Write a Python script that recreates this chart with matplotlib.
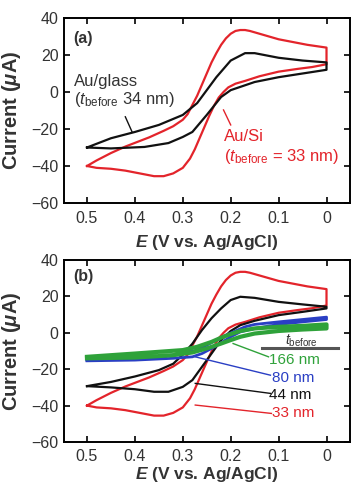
import matplotlib
matplotlib.use("Agg")
import matplotlib.pyplot as plt

plt.rcParams['font.family'] = ['Liberation Sans', 'DejaVu Sans']
plt.rcParams['mathtext.fontset'] = 'custom'
plt.rcParams['mathtext.rm'] = 'Liberation Sans'
plt.rcParams['mathtext.it'] = 'Liberation Sans:italic'
plt.rcParams['mathtext.bf'] = 'Liberation Sans:bold'
plt.rcParams['mathtext.bfit'] = 'Liberation Sans:italic:bold'

# ---------------- data (E in V vs Ag/AgCl, I in uA) ----------------
# 33 nm Au/Si (red) : upper branch 0.5 -> 0, lower branch 0 -> 0.5
red_up_E = [0.50, 0.48, 0.45, 0.42, 0.40, 0.37, 0.34, 0.32, 0.30, 0.29, 0.28, 0.27, 0.26, 0.25,
            0.24, 0.23, 0.22, 0.21, 0.20, 0.19, 0.18, 0.17, 0.16, 0.14, 0.12, 0.10, 0.07, 0.04, 0.00]
red_up_I = [-40, -37, -33, -29.5, -27.5, -24.5, -21, -18.5, -15, -12, -7, -2, 4, 10,
            16, 21, 25.5, 29, 31.5, 33, 33.5, 33.5, 33, 31.5, 30, 28.5, 27, 25.5, 24]
red_dn_E = [0.00, 0.03, 0.06, 0.10, 0.14, 0.17, 0.19, 0.205, 0.215, 0.225, 0.235, 0.245, 0.255,
            0.265, 0.275, 0.285, 0.30, 0.32, 0.34, 0.36, 0.39, 0.42, 0.45, 0.48, 0.50]
red_dn_I = [15, 13.5, 12.5, 11, 8.5, 6, 4.5, 2.5, 0, -3, -7.5, -13, -19,
            -25, -31, -36, -41, -44, -45.5, -45.5, -44, -42.5, -41.5, -41, -40]

# 34 nm Au/glass (black, panel a)
glass_up_E = [0.50, 0.45, 0.40, 0.35, 0.30, 0.27, 0.25, 0.23, 0.20, 0.17, 0.15, 0.10, 0.05, 0.00]
glass_up_I = [-30, -25, -21.6, -17.8, -12.4, -6, 1, 8, 17, 21, 21, 18.5, 17, 16]
glass_dn_E = [0.00, 0.05, 0.10, 0.15, 0.20, 0.22, 0.25, 0.28, 0.30, 0.33, 0.38, 0.45, 0.50]
glass_dn_I = [12, 10, 8, 5.4, 1, -2.7, -12.4, -21.6, -24.3, -27.6, -29.7, -30.5, -30]

# 44 nm (black, panel b)
b44_up_E = [0.50, 0.45, 0.40, 0.35, 0.32, 0.30, 0.28, 0.26, 0.24, 0.22, 0.20, 0.18, 0.15, 0.10, 0.05, 0.00]
b44_up_I = [-29.3, -27, -24, -20.5, -17, -12, -6, 1.5, 8, 13.4, 18, 19.8, 19.2, 17, 15.6, 14.3]
b44_dn_E = [0.00, 0.05, 0.10, 0.15, 0.18, 0.20, 0.22, 0.24, 0.26, 0.28, 0.30, 0.33, 0.36, 0.40, 0.45, 0.50]
b44_dn_I = [13.4, 11.5, 9.7, 6.6, 4.2, 1, -4, -11.4, -18.7, -26, -29.7, -32.4, -32.4, -31, -30, -29.3]

# 80 nm (blue)
b80_up_E = [0.50, 0.40, 0.35, 0.30, 0.27, 0.25, 0.23, 0.21, 0.19, 0.17, 0.15, 0.10, 0.05, 0.00]
b80_up_I = [-15, -14, -13.2, -11.4, -9.5, -6.8, -4, -1.3, 1, 3.3, 4.6, 6, 7.3, 8.6]
b80_dn_E = [0.00, 0.05, 0.10, 0.15, 0.18, 0.20, 0.22, 0.24, 0.26, 0.28, 0.32, 0.40, 0.50]
b80_dn_I = [7.3, 6, 4.6, 2.4, 0.5, -2.2, -5.5, -8.6, -11.4, -13.2, -14, -15, -15.4]

# 166 nm (green)
b166_up_E = [0.50, 0.40, 0.30, 0.27, 0.24, 0.22, 0.20, 0.18, 0.15, 0.10, 0.05, 0.00]
b166_up_I = [-13.2, -11.4, -9.5, -7.7, -5, -2.7, -0.7, 1, 2.4, 3.3, 3.8, 4.6]
b166_dn_E = [0.00, 0.05, 0.10, 0.15, 0.18, 0.20, 0.22, 0.25, 0.28, 0.32, 0.40, 0.50]
b166_dn_I = [2.4, 1.8, 1, -0.4, -2.2, -4, -5.9, -8.6, -10.8, -12.3, -13.6, -14]

x_ticks = [0.5, 0.4, 0.3, 0.2, 0.1, 0.0]
x_tick_labels = ['0.5', '0.4', '0.3', '0.2', '0.1', '0']
y_ticks = [40, 20, 0, -20, -40, -60]

thick_labels = ['166 nm', '80 nm', '44 nm', '33 nm']

RED = '#e3242b'
BLUE = '#2a3fc4'
GREEN = '#2fa23a'
BLACK = '#111111'
TXT = '#333333'

fig = plt.figure(figsize=(3.51, 4.84), dpi=100)
ax_a = fig.add_axes([64/351, 1-203/484, (349.5-64)/351, (203-18)/484])
ax_b = fig.add_axes([64/351, 1-442/484, (349.5-64)/351, (442-260)/484])


def style(ax, xpad, tpad):
    ax.set_xlim(0.548, -0.048)
    ax.set_ylim(-60, 40)
    ax.set_xticks(x_ticks)
    ax.set_xticklabels(x_tick_labels)
    ax.set_yticks(y_ticks)
    ax.tick_params(direction='in', top=True, right=True, length=4, width=1.2,
                   labelsize=11.5, labelcolor=TXT)
    ax.tick_params(axis='x', pad=tpad)
    ax.tick_params(axis='y', pad=4)
    for s in ax.spines.values():
        s.set_linewidth(1.4)
    ax.set_xlabel(r'$\mathbfit{E}$ (V vs. Ag/AgCl)', fontsize=12.5, fontweight='bold',
                  color=TXT, labelpad=xpad)
    ax.set_ylabel(r'Current ($\mathbfit{\mu}$A)', fontsize=14.5, fontweight='bold',
                  color=TXT)
    ax.yaxis.set_label_coords(-0.145, 0.5)


def loop(ax, e1, i1, e2, i2, color, lw=1.6, z=2):
    ax.plot(e1 + e2, i1 + i2, color=color, lw=lw, zorder=z, solid_joinstyle='round')


# ---------- panel (a) ----------
style(ax_a, 5, 6)
loop(ax_a, red_up_E, red_up_I, red_dn_E, red_dn_I, RED)
loop(ax_a, glass_up_E, glass_up_I, glass_dn_E, glass_dn_I, BLACK, z=3)
ax_a.text(0.529, 29, '(a)', fontsize=11.5, fontweight='bold', color=TXT, va='center', ha='left')
ax_a.text(0.527, 5.8, 'Au/glass', fontsize=12, color=TXT, va='center', ha='left')
ax_a.text(0.527, -4.1, r'($\mathit{t}_{\mathrm{before}}$ 34 nm)', fontsize=12, color=TXT,
          va='center', ha='left')
ax_a.plot([0.42, 0.406], [-13.4, -21.5], color=BLACK, lw=1.0)
ax_a.text(0.215, -24.2, 'Au/Si', fontsize=12, color=RED, va='center', ha='left')
ax_a.text(0.215, -35, r'($\mathit{t}_{\mathrm{before}}$ = 33 nm)', fontsize=12, color=RED,
          va='center', ha='left')
ax_a.plot([0.215, 0.2], [-9.7, -17.8], color=RED, lw=1.0)

# ---------- panel (b) ----------
style(ax_b, 0.5, 5)
loop(ax_b, red_up_E, red_up_I, red_dn_E, red_dn_I, RED, z=2)
loop(ax_b, b44_up_E, b44_up_I, b44_dn_E, b44_dn_I, BLACK, z=3)
loop(ax_b, b80_up_E, b80_up_I, b80_dn_E, b80_dn_I, BLUE, lw=2.0, z=4)
loop(ax_b, b166_up_E, b166_up_I, b166_dn_E, b166_dn_I, GREEN, lw=3.0, z=5)
ax_b.text(0.529, 30.8, '(b)', fontsize=11.5, fontweight='bold', color=TXT, va='center', ha='left')

ax_b.text(0.052, -4.5, r'$\mathit{t}_{\mathrm{before}}$', fontsize=10, color=TXT,
          va='center', ha='center')
ax_b.plot([0.134, -0.025], [-8.6, -8.6], color='#555555', lw=2.2)

label_E = [0.121, 0.114, 0.121, 0.114]
label_I = [-15, -24.7, -34.2, -44.3]
label_colors = [GREEN, BLUE, BLACK, RED]
lead_E0 = [0.195, 0.274, 0.274, 0.274]
lead_I0 = [-5.9, -13.2, -27.8, -39.7]
lead_E1 = [0.121, 0.117, 0.117, 0.115]
lead_I1 = [-13.2, -23.3, -33.3, -44.3]
for lab, le, li, c, e0, i0, e1, i1 in zip(thick_labels, label_E, label_I, label_colors,
                                          lead_E0, lead_I0, lead_E1, lead_I1):
    ax_b.plot([e0, e1], [i0, i1], color=c, lw=1.0, zorder=6)
    ax_b.text(le, li, lab, fontsize=11, color=c, va='center', ha='left', zorder=7)

fig.savefig('out.png', dpi=100)
